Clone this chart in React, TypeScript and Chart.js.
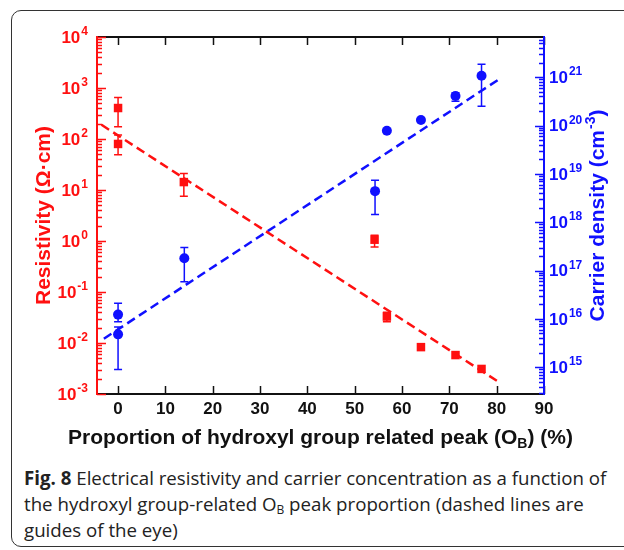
import React, { useEffect, useRef } from "react";
import { Chart, registerables } from "chart.js";
Chart.register(...registerables);

// ---- data ----
const resX = [0, 0, 13.9, 54.2, 56.8, 64.0, 71.3, 76.8];
const resY = [405, 80, 14.3, 1.06, 0.033, 0.0083, 0.0058, 0.0031];
const resLow = [174, 49, 7.5, 0.76, 0.026, null, null, null];
const resHigh = [650, 120, 21, 1.3, 0.04, null, null, null];

const carX = [0, 0, 14.0, 54.3, 56.8, 64.0, 71.3, 76.8];
const carY = [1.23e16, 4.8e15, 1.8e17, 4.4e18, 7.8e19, 1.3e20, 4.1e20, 1.07e21];
const carLow = [8.7e15, 9e14, 5.9e16, 1.45e18, null, null, 3.2e20, 2.5e20];
const carHigh = [2.1e16, 6.8e15, 3e17, 7.4e18, null, null, 4.8e20, 1.86e21];

const resFitX = [-3.5, 80.5];
const resFitY = [190, 0.0017];
const carFitX = [-3, 80.5];
const carFitY = [3.9e15, 9.1e20];

const xTicks = [0, 10, 20, 30, 40, 50, 60, 70, 80, 90];
const resTickExps = [-3, -2, -1, 0, 1, 2, 3, 4];
const carTickExps = [15, 16, 17, 18, 19, 20, 21];

const xTitleParts = ["Proportion of hydroxyl group related peak (O", "B", ") (%)"];
const resTitle = "Resistivity (\u03A9\u00B7cm)";
const carTitleParts = ["Carrier density (cm", "-3", ")"];

const RED = "#ff1010";
const BLUE = "#1010ff";
const FONT = "'Liberation Sans', Arial, sans-serif";

function drawPow(ctx: CanvasRenderingContext2D, exp: number, x: number, y: number, align: "left" | "right", color: string) {
  ctx.save();
  ctx.fillStyle = color;
  ctx.textAlign = "left";
  ctx.font = `bold 17px ${FONT}`;
  const wb = ctx.measureText("10").width;
  ctx.font = `bold 12px ${FONT}`;
  const es = String(exp);
  const we = ctx.measureText(es).width;
  const total = wb + 1 + we;
  const sx = align === "right" ? x - total : x;
  ctx.font = `bold 17px ${FONT}`;
  ctx.textBaseline = "middle";
  ctx.fillText("10", sx, y + 1);
  ctx.font = `bold 12px ${FONT}`;
  ctx.textBaseline = "alphabetic";
  ctx.fillText(es, sx + wb + 1, y - 2);
  ctx.restore();
}

function drawErr(ctx: CanvasRenderingContext2D, xs: any, ys: any, X: number[], lo: (number | null)[], hi: (number | null)[], color: string) {
  ctx.save();
  ctx.strokeStyle = color;
  ctx.lineWidth = 1.5;
  for (let i = 0; i < X.length; i++) {
    const l = lo[i], h = hi[i];
    if (l == null || h == null) continue;
    const px = xs.getPixelForValue(X[i]);
    const y1 = ys.getPixelForValue(l);
    const y2 = ys.getPixelForValue(h);
    ctx.beginPath();
    ctx.moveTo(px, y1); ctx.lineTo(px, y2);
    ctx.moveTo(px - 4, y1); ctx.lineTo(px + 4, y1);
    ctx.moveTo(px - 4, y2); ctx.lineTo(px + 4, y2);
    ctx.stroke();
  }
  ctx.restore();
}

function logTicks(ctx: CanvasRenderingContext2D, scale: any, x0: number, dir: number, color: string) {
  const min = scale.min, max = scale.max;
  const e0 = Math.floor(Math.log10(min)), e1 = Math.ceil(Math.log10(max));
  ctx.save();
  ctx.strokeStyle = color;
  ctx.lineWidth = 1.5;
  ctx.beginPath();
  for (let e = e0; e <= e1; e++) {
    for (let m = 1; m <= 9; m++) {
      const v = m * Math.pow(10, e);
      if (v < min * 0.999 || v > max * 1.001) continue;
      const py = Math.round(scale.getPixelForValue(v)) + 0.5;
      const len = m === 1 ? 9 : 5;
      ctx.moveTo(x0, py);
      ctx.lineTo(x0 + dir * len, py);
    }
  }
  ctx.stroke();
  ctx.restore();
}

const customPlugin = {
  id: "custom",
  beforeDatasetsDraw(chart: any) {
    const { ctx, scales } = chart;
    drawErr(ctx, scales.x, scales.y, resX, resLow, resHigh, RED);
    drawErr(ctx, scales.x, scales.y2, carX, carLow, carHigh, BLUE);
  },
  afterDraw(chart: any) {
    const { ctx, chartArea: a, scales } = chart;
    const xs = scales.x, ys = scales.y, y2 = scales.y2;
    ctx.save();
    // frame
    ctx.lineWidth = 2;
    ctx.strokeStyle = "#111";
    ctx.beginPath();
    ctx.moveTo(a.left, a.top); ctx.lineTo(a.right, a.top);
    ctx.moveTo(a.left, a.bottom); ctx.lineTo(a.right, a.bottom);
    ctx.stroke();
    // x ticks (inward, top and bottom)
    ctx.lineWidth = 1.5;
    ctx.beginPath();
    for (const t of xTicks) {
      const px = Math.round(xs.getPixelForValue(t)) + 0.5;
      ctx.moveTo(px, a.bottom); ctx.lineTo(px, a.bottom - 8);
      ctx.moveTo(px, a.top); ctx.lineTo(px, a.top + 8);
    }
    ctx.stroke();
    // left axis
    ctx.lineWidth = 2;
    ctx.strokeStyle = RED;
    ctx.beginPath(); ctx.moveTo(a.left, a.top - 1); ctx.lineTo(a.left, a.bottom + 1); ctx.stroke();
    logTicks(ctx, ys, a.left, 1, RED);
    // right axis
    ctx.strokeStyle = BLUE;
    ctx.lineWidth = 2;
    ctx.beginPath(); ctx.moveTo(a.right, a.top - 1); ctx.lineTo(a.right, a.bottom + 1); ctx.stroke();
    logTicks(ctx, y2, a.right, -1, BLUE);

    // x tick labels
    ctx.fillStyle = "#111";
    ctx.font = `bold 17px ${FONT}`;
    ctx.textAlign = "center";
    ctx.textBaseline = "middle";
    for (const t of xTicks) {
      ctx.fillText(String(t), xs.getPixelForValue(t), a.bottom + 15);
    }
    // left labels
    for (const e of resTickExps) {
      drawPow(ctx, e, a.left - 9, ys.getPixelForValue(Math.pow(10, e)), "right", RED);
    }
    for (const e of carTickExps) {
      drawPow(ctx, e, a.right + 5, y2.getPixelForValue(Math.pow(10, e)), "left", BLUE);
    }

    // x title
    {
      ctx.fillStyle = "#111";
      ctx.textAlign = "left";
      ctx.textBaseline = "middle";
      ctx.font = `bold 21px ${FONT}`;
      const w0 = ctx.measureText(xTitleParts[0]).width;
      const w2 = ctx.measureText(xTitleParts[2]).width;
      ctx.font = `bold 14px ${FONT}`;
      const w1 = ctx.measureText(xTitleParts[1]).width;
      const tot = w0 + w1 + w2;
      const cx = (a.left + a.right) / 2;
      const cy = a.bottom + 44;
      let sx = cx - tot / 2;
      ctx.font = `bold 21px ${FONT}`;
      ctx.fillText(xTitleParts[0], sx, cy);
      ctx.font = `bold 14px ${FONT}`;
      ctx.fillText(xTitleParts[1], sx + w0, cy + 6);
      ctx.font = `bold 21px ${FONT}`;
      ctx.fillText(xTitleParts[2], sx + w0 + w1, cy);
    }
    // left title
    {
      ctx.save();
      ctx.translate(44, (a.top + a.bottom) / 2);
      ctx.rotate(-Math.PI / 2);
      ctx.fillStyle = RED;
      ctx.font = `bold 21px ${FONT}`;
      ctx.textAlign = "center";
      ctx.textBaseline = "middle";
      ctx.fillText(resTitle, 0, 0);
      ctx.restore();
    }
    // right title
    {
      ctx.save();
      ctx.translate(598, (a.top + a.bottom) / 2);
      ctx.rotate(-Math.PI / 2);
      ctx.fillStyle = BLUE;
      ctx.textAlign = "left";
      ctx.textBaseline = "middle";
      ctx.font = `bold 21px ${FONT}`;
      const w0 = ctx.measureText(carTitleParts[0]).width;
      const w2 = ctx.measureText(carTitleParts[2]).width;
      ctx.font = `bold 14px ${FONT}`;
      const w1 = ctx.measureText(carTitleParts[1]).width;
      const tot = w0 + w1 + w2 + 1;
      let sx = -tot / 2;
      ctx.font = `bold 21px ${FONT}`;
      ctx.fillText(carTitleParts[0], sx, 0);
      ctx.font = `bold 14px ${FONT}`;
      ctx.fillText(carTitleParts[1], sx + w0 + 1, -7);
      ctx.font = `bold 21px ${FONT}`;
      ctx.fillText(carTitleParts[2], sx + w0 + w1 + 1, 0);
      ctx.restore();
    }
    ctx.restore();
  },
};

export default function App() {
  const ref = useRef<HTMLCanvasElement | null>(null);
  useEffect(() => {
    if (!ref.current) return;
    const chart = new Chart(ref.current, {
      type: "scatter",
      data: {
        datasets: [
          {
            type: "line",
            data: resFitX.map((x, i) => ({ x, y: resFitY[i] })),
            yAxisID: "y",
            borderColor: RED,
            borderWidth: 2.5,
            borderDash: [9, 5],
            pointRadius: 0,
            fill: false,
          },
          {
            type: "line",
            data: carFitX.map((x, i) => ({ x, y: carFitY[i] })),
            yAxisID: "y2",
            borderColor: BLUE,
            borderWidth: 2.5,
            borderDash: [9, 5],
            pointRadius: 0,
            fill: false,
          },
          {
            type: "scatter",
            data: resX.map((x, i) => ({ x, y: resY[i] })),
            yAxisID: "y",
            pointStyle: "rect",
            pointRadius: 6,
            backgroundColor: RED,
            borderColor: RED,
            borderWidth: 0,
          },
          {
            type: "scatter",
            data: carX.map((x, i) => ({ x, y: carY[i] })),
            yAxisID: "y2",
            pointStyle: "circle",
            pointRadius: 5,
            backgroundColor: BLUE,
            borderColor: BLUE,
            borderWidth: 0,
          },
        ],
      } as any,
      options: {
        animation: false,
        responsive: false,
        devicePixelRatio: 1,
        layout: { padding: { top: 37, left: 0, right: 0, bottom: 0 } },
        plugins: { legend: { display: false }, tooltip: { enabled: false } },
        scales: {
          x: {
            type: "linear",
            min: -4.45,
            max: 90,
            grid: { display: false },
            border: { display: false },
            ticks: { display: false },
            afterFit: (s: any) => { s.height = 61; },
          },
          y: {
            type: "logarithmic",
            position: "left",
            min: 1e-3,
            max: 1e4,
            grid: { display: false },
            border: { display: false },
            ticks: { display: false },
            afterFit: (s: any) => { s.width = 97; },
          },
          y2: {
            type: "logarithmic",
            position: "right",
            min: 2.8e14,
            max: 6.8e21,
            grid: { display: false },
            border: { display: false },
            ticks: { display: false },
            afterFit: (s: any) => { s.width = 80; },
          },
        },
      } as any,
      plugins: [customPlugin],
    });
    return () => chart.destroy();
  }, []);

  return (
    <div style={{ position: "absolute", left: 0, top: 0, width: 624, height: 550, overflow: "hidden", background: "#fff" }}>
      <div
        style={{
          position: "absolute",
          left: 11,
          top: 10,
          width: 700,
          height: 537,
          border: "1.5px solid #333",
          borderRadius: 10,
          boxSizing: "border-box",
        }}
      />
      <canvas ref={ref} width={624} height={455} style={{ position: "absolute", left: 0, top: 0, width: 624, height: 455 }} />
      <div
        style={{
          position: "absolute",
          left: 24,
          top: 465,
          fontFamily: "'Open Sans', sans-serif",
          fontSize: 18.7,
          lineHeight: "26px",
          color: "#222",
          whiteSpace: "nowrap",
        }}
      >
        <b>Fig. 8</b> Electrical resistivity and carrier concentration as a function of
        <br />
        the hydroxyl group-related O<span style={{ fontSize: 12, verticalAlign: "-3px", lineHeight: 0 }}>B</span> peak proportion (dashed lines are
        <br />
        guides of the eye)
      </div>
    </div>
  );
}
